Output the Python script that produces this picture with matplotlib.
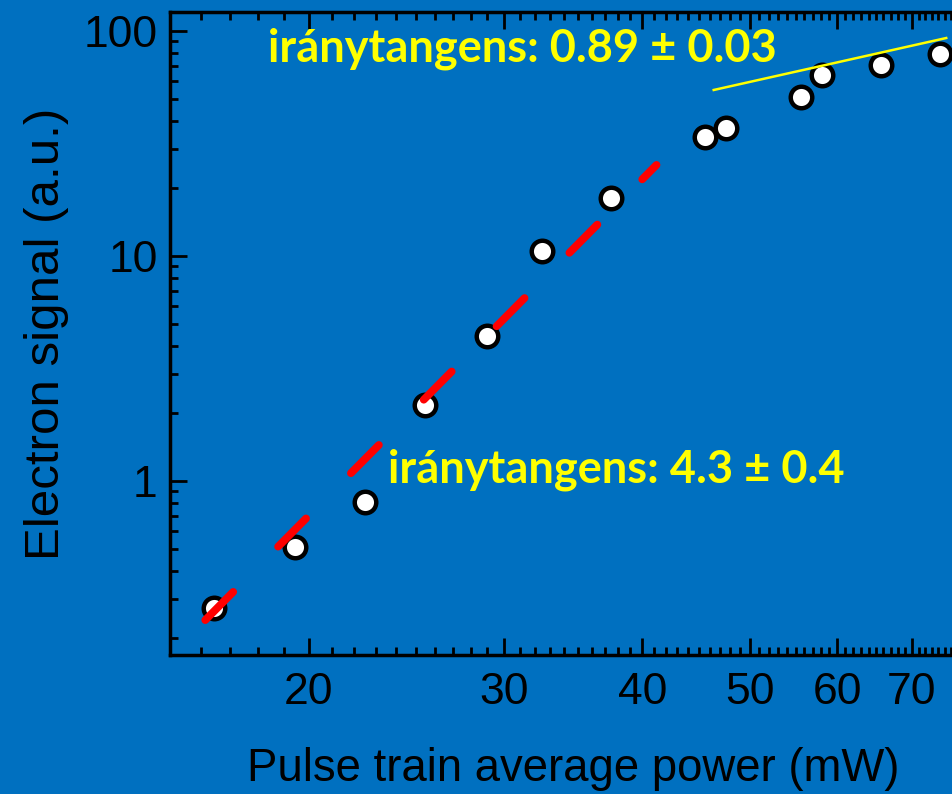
import matplotlib
matplotlib.use("Agg")
import matplotlib.pyplot as plt
from matplotlib.ticker import LogLocator, FixedLocator, NullFormatter, FixedFormatter

# ---- data ----
power_mw = [16.45, 19.43, 22.47, 25.5, 28.96, 32.5, 37.5, 45.6, 47.6, 55.6, 58.1, 65.7, 74.3]
signal = [0.273, 0.509, 0.806, 2.18, 4.41, 10.5, 18.1, 33.8, 37.1, 50.9, 63.8, 70.6, 79.0]

fit_low_x = [16.14, 41.2]
fit_low_y = [0.241, 25.4]
fit_high_x = [46.4, 75.2]
fit_high_y = [54.7, 93.1]

x_ticks = [20, 30, 40, 50, 60, 70]
x_tick_labels = ["20", "30", "40", "50", "60", "70"]
y_ticks = [1, 10, 100]
y_tick_labels = ["1", "10", "100"]

label_low = "iránytangens: 4.3 ± 0.4"
label_high = "iránytangens: 0.89 ± 0.03"

BG = "#0070C0"
W, H = 952, 794

plt.rcParams['font.family'] = ['Liberation Sans', 'DejaVu Sans']

fig = plt.figure(figsize=(W / 100, H / 100), dpi=100)
fig.patch.set_facecolor(BG)
ax = fig.add_axes([170 / W, 139 / H, (976 - 170) / W, 643 / H])
ax.set_facecolor(BG)

ax.set_xscale('log')
ax.set_yscale('log')
ax.set_xlim(15, 80)
ax.set_ylim(0.1686, 121.5)

ax.plot(power_mw, signal, linestyle='none', marker='o', markersize=15.5,
        markerfacecolor='white', markeredgecolor='black', markeredgewidth=3.2, zorder=2)

red, = ax.plot(fit_low_x, fit_low_y, color='#FF0000', linewidth=5.6,
               solid_capstyle='round', dash_capstyle='round', zorder=3)
red.set_dashes((5.1, 8.2))
ax.plot(fit_high_x, fit_high_y, color='#FFFF00', linewidth=1.8, zorder=3)

ax.xaxis.set_major_locator(FixedLocator(x_ticks))
ax.xaxis.set_major_formatter(FixedFormatter(x_tick_labels))
ax.xaxis.set_minor_locator(FixedLocator(list(range(15, 81))))
ax.xaxis.set_minor_formatter(NullFormatter())
ax.yaxis.set_major_locator(FixedLocator(y_ticks))
ax.yaxis.set_major_formatter(FixedFormatter(y_tick_labels))
ax.yaxis.set_minor_locator(LogLocator(base=10, subs=range(2, 10), numticks=20))
ax.yaxis.set_minor_formatter(NullFormatter())

ax.tick_params(which='both', direction='in', top=True, right=True, colors='black')
ax.tick_params(which='major', length=12, width=2)
ax.tick_params(which='minor', length=6, width=2)
ax.tick_params(axis='x', which='major', labelsize=32, pad=12)
ax.tick_params(axis='y', which='major', labelsize=32, pad=9)

for sp in ax.spines.values():
    sp.set_linewidth(2.5)
    sp.set_color('black')

ax.set_xlabel("Pulse train average power (mW)", fontsize=32.8, labelpad=25)
ax.set_ylabel("Electron signal (a.u.)", fontsize=35.5, labelpad=10)

txt_kw = dict(color='#FFFF00', fontsize=32.5, fontweight='bold',
              family=['Lato', 'DejaVu Sans'], va='baseline', ha='left')
fig.text(268 / W, 1 - 62 / H, label_high, **txt_kw)
fig.text(388 / W, 1 - 483 / H, label_low, **txt_kw)

fig.savefig("out.png", dpi=100, facecolor=BG)
